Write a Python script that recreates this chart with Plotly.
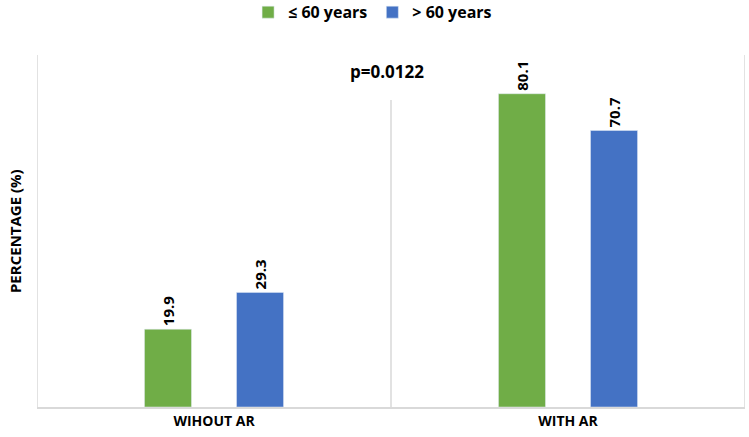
import plotly.graph_objects as go

categories = ["WIHOUT AR", "WITH AR"]
young = [19.9, 80.1]
old = [29.3, 70.7]
series_names = ["≤ 60 years", "> 60 years"]
p_text = "p=0.0122"
y_title = "PERCENTAGE (%)"

FONT = "Open Sans"
GREEN = "#70AD47"
BLUE = "#4472C4"
LINE = "#D9D9D9"

fig = go.Figure()
for name, vals, col in [(series_names[0], young, GREEN), (series_names[1], old, BLUE)]:
    fig.add_trace(go.Bar(
        x=categories, y=vals, name=name, marker_color=col,
        text=[f"{v:.1f}" for v in vals], textposition="outside",
        textangle=-90, cliponaxis=False,
        textfont=dict(family=FONT, size=15, color="#000000", weight="bold"),
    ))

# frame lines
for xv, y1 in [(-0.5, 90), (1.5, 90), (0.5, 78.5)]:
    fig.add_shape(type="line", xref="x", yref="y", x0=xv, x1=xv, y0=0, y1=y1,
                  line=dict(color=LINE, width=1.5))

fig.add_annotation(x=0.49, y=85.7, xref="x", yref="y", text=p_text, showarrow=False,
                   font=dict(family=FONT, size=17, color="#000000", weight="bold"))
fig.add_annotation(x=-0.031, y=0.5, xref="paper", yref="paper", text=y_title,
                   textangle=-90, showarrow=False, xanchor="center", yanchor="middle",
                   font=dict(family=FONT, size=15, color="#000000", weight="bold"))

fig.update_layout(
    width=749, height=437,
    margin=dict(l=37, r=4, t=55, b=30, autoexpand=False),
    plot_bgcolor="white", paper_bgcolor="white",
    barmode="group", bargap=0.48, bargroupgap=0.489,
    legend=dict(orientation="h", x=0.474, xanchor="center", y=0.972, yref="container", yanchor="middle",
                itemwidth=30,
                font=dict(family=FONT, size=16, color="#000000", weight="bold")),
    xaxis=dict(range=[-0.5, 1.5], showline=True, linecolor=LINE, linewidth=1.5,
               ticks="", automargin=False,
               tickfont=dict(family=FONT, size=14, color="#000000", weight="bold")),
    yaxis=dict(range=[0, 90], showgrid=False, showticklabels=False, zeroline=False,
               automargin=False),
    showlegend=True,
)
fig.write_html("out.html", config={"displayModeBar": False},
               post_script="document.body.style.margin='0';document.body.style.overflow='hidden';")
